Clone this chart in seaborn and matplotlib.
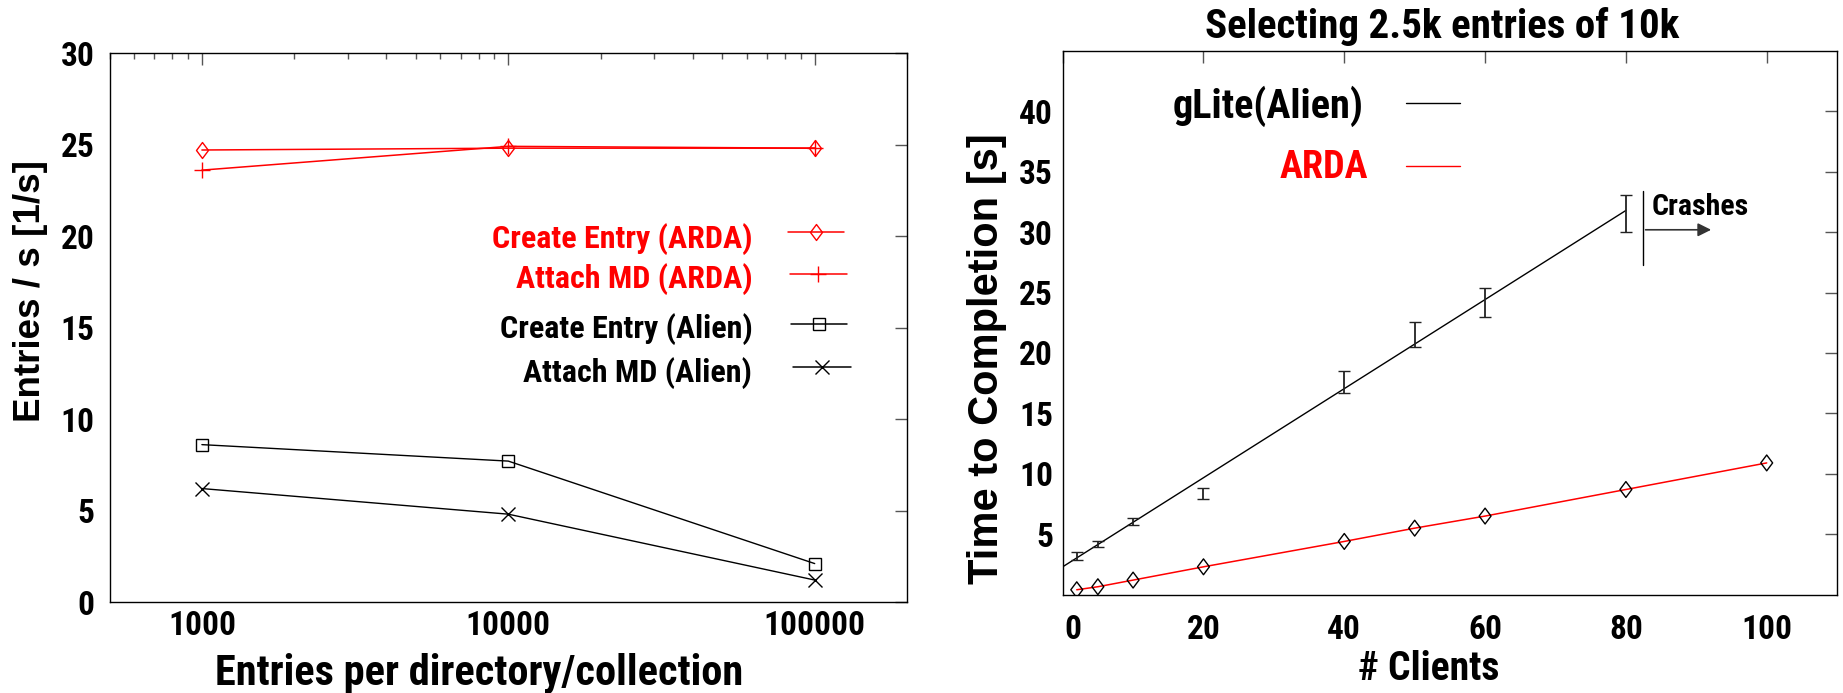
import numpy as np
import pandas as pd
import matplotlib
matplotlib.use("Agg")
import matplotlib.pyplot as plt
from matplotlib.path import Path
from matplotlib.transforms import ScaledTranslation
import seaborn as sns

# ---------------- data ----------------
entries = [1000, 10000, 100000]
create_arda = [24.7, 24.8, 24.8]
attach_arda = [23.6, 24.9, 24.8]
create_alien = [8.6, 7.7, 2.1]
attach_alien = [6.2, 4.8, 1.2]

glite_clients = [2, 5, 10, 20, 40, 50, 60, 80]
glite_time = [3.2, 4.2, 6.0, 8.35, 17.6, 21.5, 24.2, 31.5]
glite_low = [2.9, 3.9, 5.75, 7.9, 16.7, 20.5, 23.0, 30.0]
glite_high = [3.5, 4.45, 6.3, 8.8, 18.5, 22.6, 25.4, 33.1]
glite_fit_x = [0, 80]
glite_fit_y = [2.3, 31.8]

arda_clients = [2, 5, 10, 20, 40, 50, 60, 80, 100]
arda_time = [0.4, 0.65, 1.2, 2.3, 4.4, 5.5, 6.5, 8.7, 10.9]

left_yticks = [0, 5, 10, 15, 20, 25, 30]
right_xticks = [0, 20, 40, 60, 80, 100]
right_yticks = [5, 10, 15, 20, 25, 30, 35, 40]

sns.set_theme(style="white")
NARROW = ["Roboto Condensed", "DejaVu Sans"]
WIDE = ["Liberation Sans", "DejaVu Sans"]
plt.rcParams["font.family"] = NARROW
plt.rcParams["font.weight"] = "bold"
for k in ("text.color", "axes.labelcolor", "xtick.labelcolor", "ytick.labelcolor"):
    plt.rcParams[k] = "black"

DIAMOND = Path([(0, 1), (0.75, 0), (0, -1), (-0.75, 0), (0, 1)],
               [Path.MOVETO, Path.LINETO, Path.LINETO, Path.LINETO, Path.CLOSEPOLY])

fig = plt.figure(figsize=(18.43, 6.93), dpi=100)
axL = fig.add_axes([0.0595, 0.1313, 0.4326, 0.7922])
axR = fig.add_axes([0.5766, 0.1420, 0.4202, 0.7844])

for ax in (axL, axR):
    for s in ax.spines.values():
        s.set_color("black")
        s.set_linewidth(1.0)
    ax.set_facecolor("white")
    ax.tick_params(which="both", direction="in", top=True, right=True,
                   color="#555555", width=1.0, labelcolor="black")
    ax.tick_params(which="major", length=8.5, labelsize=24)
    ax.tick_params(which="minor", length=4.3)

# ---------------- left panel ----------------
dfL = pd.DataFrame({"n": entries, "ca": create_arda, "aa": attach_arda,
                    "ce": create_alien, "ae": attach_alien})
axL.set_xscale("log")
sns.lineplot(data=dfL, x="n", y="ca", ax=axL, color="red", lw=1.1,
             marker=DIAMOND, markersize=11.5, markerfacecolor="none",
             markeredgecolor="red", markeredgewidth=1.0)
sns.lineplot(data=dfL, x="n", y="aa", ax=axL, color="red", lw=1.1,
             marker="+", markersize=12, markeredgecolor="red",
             markeredgewidth=1.0)
sns.lineplot(data=dfL, x="n", y="ce", ax=axL, color="black", lw=1.0,
             marker="s", markersize=9, markerfacecolor="none",
             markeredgecolor="black", markeredgewidth=1.0)
sns.lineplot(data=dfL, x="n", y="ae", ax=axL, color="black", lw=1.0,
             marker="x", markersize=10, markeredgecolor="black",
             markeredgewidth=1.0)
axL.set_xlim(500, 200000)
axL.set_ylim(0, 30)
axL.set_xticks(entries)
axL.set_xticklabels([str(v) for v in entries])
axL.set_yticks(left_yticks)
axL.set_yticklabels([str(v) for v in left_yticks])
axL.tick_params(axis="x", pad=6)
axL.tick_params(axis="y", pad=11)
axL.set_xlabel("")
axL.set_ylabel("")

leg_rows = [
    ("Create Entry (ARDA)", "red", dict(marker=DIAMOND, ms=11.5, mfc="none", mec="red"), 0.645, 0.674, 0.851, 0.921),
    ("Attach MD (ARDA)", "red", dict(marker="+", ms=12, mec="red"), 0.572, 0.597, 0.853, 0.925),
    ("Create Entry (Alien)", "black", dict(marker="s", ms=9, mfc="none", mec="black"), 0.481, 0.506, 0.854, 0.925),
    ("Attach MD (Alien)", "black", dict(marker="x", ms=10, mec="black"), 0.401, 0.428, 0.857, 0.930),
]
for label, col, mk, ybase, yline, x0, x1 in leg_rows:
    axL.text(0.806, ybase, label, transform=axL.transAxes, ha="right",
             va="baseline", color=col, fontsize=23, fontweight="bold",
             family=NARROW)
    axL.plot([x0, x1], [yline, yline], transform=axL.transAxes, color=col,
             lw=1.1, clip_on=False)
    axL.plot([(x0 + x1) / 2], [yline], transform=axL.transAxes, color=col,
             lw=0, mew=1.0, clip_on=False, **mk)

fig.text(0.2597, 0.0115, "Entries per directory/collection", ha="center",
         va="baseline", fontsize=30.5, fontweight="bold", family=NARROW)
fig.text(0.0168, 0.58, "Entries / s [1/s]", ha="center", va="center",
         rotation=90, fontsize=26.5, fontweight="bold", family=WIDE)

# ---------------- right panel ----------------
dfF = pd.DataFrame({"c": glite_fit_x, "t": glite_fit_y})
dfA = pd.DataFrame({"c": arda_clients, "t": arda_time})

sns.lineplot(data=dfF, x="c", y="t", ax=axR, color="black", lw=1.0)
yerr = [np.array(glite_time) - np.array(glite_low),
        np.array(glite_high) - np.array(glite_time)]
axR.errorbar(glite_clients, glite_time, yerr=yerr, fmt="none",
             ecolor="#222222", elinewidth=1.3, capsize=4, capthick=1.0)
sns.lineplot(data=dfA, x="c", y="t", ax=axR, color="red", lw=1.1)
sns.scatterplot(data=dfA, x="c", y="t", ax=axR, marker=DIAMOND, s=130,
                facecolor="none", edgecolor="black", linewidth=1.0, zorder=5)

axR.set_xlim(0, 110)
axR.set_ylim(0, 45)
axR.set_xticks(right_xticks)
axR.set_xticklabels([str(v) for v in right_xticks])
axR.set_yticks(right_yticks)
axR.set_yticklabels([str(v) for v in right_yticks])
axR.tick_params(axis="x", pad=14)
axR.tick_params(axis="y", pad=7)
axR.set_xlabel("")
axR.set_ylabel("")
fig.canvas.draw()
lbl0 = axR.get_xticklabels()[0]
lbl0.set_transform(lbl0.get_transform() + ScaledTranslation(0.1, 0, fig.dpi_scale_trans))

axR.text(42.8, 39.5, "gLite(Alien)", ha="right", va="baseline",
         fontsize=29, fontweight="bold", color="black", family=NARROW)
axR.plot([48.8, 56.5], [40.7, 40.7], color="black", lw=1.0)
axR.text(43.4, 34.5, "ARDA", ha="right", va="baseline",
         fontsize=27.5, fontweight="bold", color="red", family=NARROW)
axR.plot([48.8, 56.5], [35.5, 35.5], color="red", lw=1.0)

# crashes annotation
axR.plot([82.4, 82.4], [27.3, 33.4], color="black", lw=1.0)
axR.annotate("", xy=(92.5, 30.2), xytext=(82.4, 30.2),
             arrowprops=dict(arrowstyle="-|>", color="#333333", lw=1.2,
                             mutation_scale=20))
axR.text(83.6, 31.4, "Crashes", ha="left", va="baseline", fontsize=21.5,
         fontweight="bold", family=NARROW)

fig.text(0.7824, 0.945, "Selecting 2.5k entries of 10k", ha="center",
         va="baseline", fontsize=29.5, fontweight="bold", family=NARROW)
fig.text(0.7754, 0.0188, "# Clients", ha="center", va="baseline",
         fontsize=28.5, fontweight="bold", family=NARROW)
fig.text(0.5355, 0.482, "Time to Completion [s]", ha="center", va="center",
         rotation=90, fontsize=30, fontweight="bold", family=WIDE)

fig.savefig("out.png", dpi=100, facecolor="white")
